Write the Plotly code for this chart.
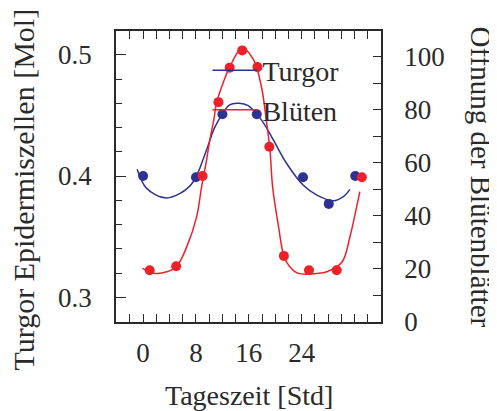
import plotly.graph_objects as go

# Measured points
turgor_t = [0, 8, 12, 17.2, 24.2, 28.1, 32.1]
turgor_v = [0.400, 0.399, 0.451, 0.451, 0.399, 0.377, 0.400]

blueten_t = [1.0, 5.0, 9.0, 11.4, 13.1, 15.0, 17.3, 19.1, 21.3, 25.1, 29.3, 33.1]
blueten_v = [19.5, 21.0, 55.0, 82.8, 95.8, 102.3, 96.0, 66.0, 24.9, 19.5, 19.5, 54.5]

# Fitted curves
turgor_fit_t = [-0.9, 0.5, 3.3, 5.6, 7.6, 9.6, 10.9, 13.1, 14.5, 15.9, 17.9, 19.7,
                21.7, 24.2, 26.3, 28.8, 30.3, 31.3]
turgor_fit_v = [0.4055, 0.390, 0.382, 0.3857, 0.3953, 0.4215, 0.4407, 0.4587, 0.460,
                0.458, 0.4463, 0.4298, 0.4105, 0.3926, 0.3843, 0.3796, 0.383, 0.389]

blueten_fit_t = [-0.1, 1.8, 3.6, 5.1, 6.6, 8.1, 8.85, 9.6, 10.1, 10.7, 11.1, 12.1,
                 13.1, 15.0, 16.7, 17.9, 18.7, 19.2, 19.6, 20.5, 21.3, 22.2, 23.5,
                 26.3, 27.8, 30.1, 31.3, 32.1, 32.8]
blueten_fit_v = [20.2, 18.3, 18.9, 21.0, 28.3, 39.6, 50.9, 61.0, 68.6, 76.1, 82.4, 90.0,
                 96.0, 103.2, 98.8, 88.7, 74.9, 64.8, 50.9, 35.8, 24.9, 20.8, 18.3,
                 18.3, 18.9, 22.6, 32.1, 40.9, 49.1]

x_tickvals = [0, 8, 16, 24]
y_tickvals = [0.3, 0.4, 0.5]
y2_tickvals = [0, 20, 40, 60, 80, 100]

BLUE = "#2E3192"
RED = "#EE2028"
INK = "#2a2a2a"
FONT = "Liberation Serif"

fig = go.Figure()
fig.add_trace(go.Scatter(x=turgor_fit_t, y=turgor_fit_v, mode="lines", name="Turgor",
                         line=dict(color=BLUE, width=1.5, shape="spline"), yaxis="y"))
fig.add_trace(go.Scatter(x=blueten_fit_t, y=blueten_fit_v, mode="lines", name="Blüten",
                         line=dict(color=RED, width=1.5, shape="spline"), yaxis="y2"))
fig.add_trace(go.Scatter(x=turgor_t, y=turgor_v, mode="markers", showlegend=False,
                         marker=dict(color=BLUE, size=10), yaxis="y"))
fig.add_trace(go.Scatter(x=blueten_t, y=blueten_v, mode="markers", showlegend=False,
                         marker=dict(color=RED, size=10), yaxis="y2"))

fig.update_layout(
    width=489, height=403,
    margin=dict(l=108, r=116, t=23, b=89),
    paper_bgcolor="white", plot_bgcolor="white",
    font=dict(family=FONT, size=27, color=INK),
    showlegend=True,
    legend=dict(x=0.345, y=0.95, xanchor="left", yanchor="top",
                bgcolor="rgba(0,0,0,0)", font=dict(size=28, family=FONT, color=INK),
                itemwidth=45),
    xaxis=dict(range=[-4.1, 36], showgrid=False, zeroline=False,
               showline=True, linecolor=INK, linewidth=1.5, mirror="allticks",
               ticks="inside", ticklen=8, tickwidth=1.2, tickcolor=INK,
               tickvals=x_tickvals, ticktext=[str(v) for v in x_tickvals],
               ticklabelstandoff=6,
               minor=dict(dtick=2, tick0=0, ticks="inside", ticklen=5, tickwidth=1.2,
                          tickcolor=INK, showgrid=False)),
    yaxis=dict(range=[0.2796, 0.5196], showgrid=False, zeroline=False,
               showline=True, linecolor=INK, linewidth=1.5,
               ticks="inside", ticklen=10, tickwidth=1.2, tickcolor=INK,
               tickvals=y_tickvals, ticktext=["0.3", "0.4", "0.5"],
               ticklabelstandoff=17,
               minor=dict(dtick=0.02, tick0=0.3, ticks="inside", ticklen=6, tickwidth=1.2,
                          tickcolor=INK, showgrid=False)),
    yaxis2=dict(range=[0, 109.6], overlaying="y", side="right", showgrid=False,
                zeroline=False, showline=True, linecolor=INK, linewidth=1.5,
                ticks="inside", ticklen=8, tickwidth=1.2, tickcolor=INK,
                tickvals=y2_tickvals, ticktext=[str(v) for v in y2_tickvals],
                ticklabelstandoff=16,
                minor=dict(dtick=10, tick0=0, ticks="inside", ticklen=8, tickwidth=1.2,
                           tickcolor=INK, showgrid=False)),
    annotations=[
        dict(text="Tageszeit [Std]", xref="paper", yref="paper", x=0.5, y=-0.0,
             yshift=-73, xanchor="center", yanchor="middle", showarrow=False,
             font=dict(size=28, family=FONT, color=INK)),
        dict(text="Turgor Epidermiszellen [Mol]", xref="paper", yref="paper",
             x=0, xshift=-93, y=0.5, yshift=-13, textangle=-90,
             xanchor="center", yanchor="middle", showarrow=False,
             font=dict(size=30, family=FONT, color=INK)),
        dict(text="Öffnung der Blütenblätter", xref="paper", yref="paper",
             x=1, xshift=100, y=0.5, textangle=90,
             xanchor="center", yanchor="middle", showarrow=False,
             font=dict(size=29, family=FONT, color=INK)),
    ],
)

fig.write_html("out.html")
